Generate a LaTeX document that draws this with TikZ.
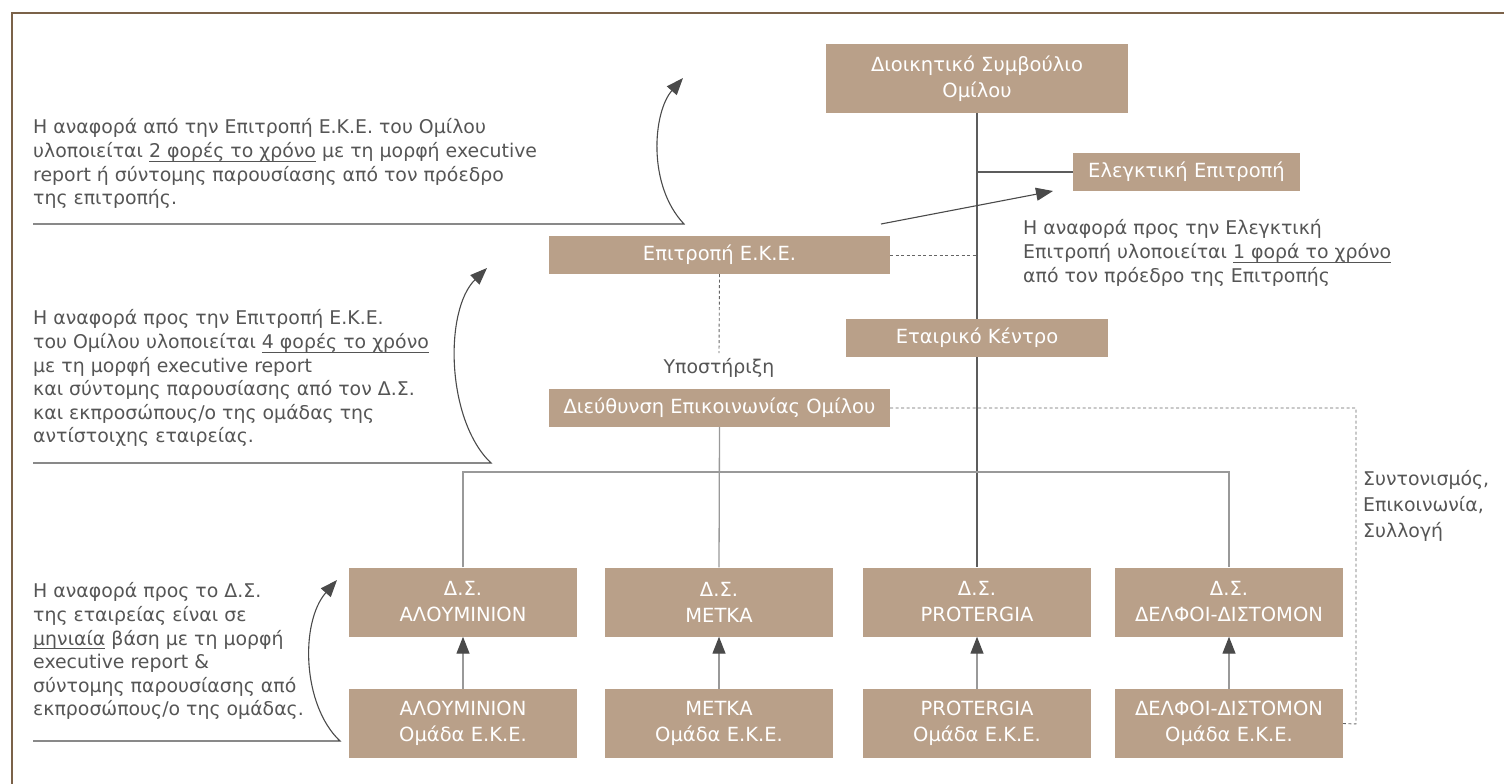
\documentclass[tikz,border=0pt]{standalone}
\usepackage{fontspec}
\setmainfont{DejaVu Sans}
\usetikzlibrary{arrows.meta}
\definecolor{boxc}{HTML}{B9A089}
\definecolor{txtc}{HTML}{555555}
\definecolor{framec}{HTML}{7B6249}
\definecolor{arrc}{HTML}{4A4A4A}
\definecolor{treec}{HTML}{999999}
\newcommand\myul[1]{\setbox0\hbox{#1}\rlap{\rule[-4.2pt]{\wd0}{0.8pt}}\box0\relax}
\tikzset{
  orgbox/.style={fill=boxc, text=white, inner sep=0pt, align=center,
    font=\fontsize{19.5}{26}\selectfont},
  note/.style={text=txtc, align=left, inner sep=0pt, anchor=north west,
    font=\fontsize{18.9}{23.6}\selectfont},
  curvarrow/.style={draw=arrc, line width=1.1pt, -{Triangle[length=17pt,width=13pt]}},
  uparrow/.style={draw=treec, line width=1.3pt, -{Triangle[length=17pt,width=13pt,color=arrc]}},
  trunk/.style={draw=arrc!90, line width=1.1pt},
  tree/.style={draw=treec, line width=1.3pt},
  dotline/.style={draw=arrc!85, line width=0.9pt, dash pattern=on 3pt off 2.5pt}
}
\begin{document}
\begin{tikzpicture}[x=1pt,y=-1pt]
\useasboundingbox (0,0) rectangle (1504,784);
% frame
\draw[framec, line width=2pt] (12,784) -- (12,13) -- (1504,13);

% boxes
\node[orgbox, minimum width=302pt, minimum height=69pt] (ds) at (977,78.5) {Διοικητικό Συμβούλιο\\Ομίλου};
\node[orgbox, minimum width=227pt, minimum height=38pt] (elegk) at (1186.5,172) {Ελεγκτική Επιτροπή};
\node[orgbox, minimum width=341pt, minimum height=38pt] (eke) at (719.5,255) {Επιτροπή Ε.Κ.Ε.};
\node[orgbox, minimum width=262pt, minimum height=38pt] (ek) at (977,338) {Εταιρικό Κέντρο};
\node[orgbox, minimum width=341pt, minimum height=38pt] (dep) at (719.5,408) {Διεύθυνση Επικοινωνίας Ομίλου};

\foreach \nm/\cx/\ta/\tb in {a/463/ΑΛΟΥΜΙΝΙΟΝ/ΑΛΟΥΜΙΝΙΟΝ, m/719/ΜΕΤΚΑ/ΜΕΤΚΑ, p/977/PROTERGIA/PROTERGIA, d/1229/ΔΕΛΦΟΙ-ΔΙΣΤΟΜΟΝ/ΔΕΛΦΟΙ-ΔΙΣΤΟΜΟΝ}{
  \node[orgbox, minimum width=228pt, minimum height=69pt] (b\nm) at (\cx,602) {Δ.Σ.\\\ta};
  \node[orgbox, minimum width=228pt, minimum height=69pt] (g\nm) at (\cx,723.5) {\tb\\Ομάδα Ε.Κ.Ε.};
  \draw[uparrow] (g\nm.north) -- (b\nm.south);
}

% trunk
\draw[trunk] (ds.south) -- (ek.north);
\draw[trunk] (ek.south) -- (bp.north);
\draw[trunk] (977,172) -- (elegk.west);
\coordinate (ja) at (463,472);
\coordinate (jd) at (1229,472);
\draw[tree] (ba.north) -- (ja) -- (jd) -- (bd.north);
\draw[tree] (dep.south) -- (bm.north);

% dashed
\draw[dotline] (eke.east) -- (977,255);
\draw[dotline] (eke.south) -- (719,353);
\node[text=txtc, font=\fontsize{18.9}{22}\selectfont, inner sep=0pt] (yp) at (719,368) {Υποστήριξη};
\coordinate (c1) at (1356,408);
\coordinate (c2) at (1356,724);
\draw[dotline] (dep.east) -- (c1) -- (c2) -- (gd.east);

% arrow to Ελεγκτική
\coordinate (es) at (881,224);
\coordinate (et) at (1053,191);
\draw[curvarrow] (es) -- (et);

% notes
\node[note] (n1) at (33,118.5) {Η αναφορά από την Επιτροπή Ε.Κ.Ε. του Ομίλου\\
υλοποιείται \myul{2 φορές το χρόνο} με τη μορφή executive\\
report ή σύντομης παρουσίασης από τον πρόεδρο\\
της επιτροπής.};
\node[note] (n2) at (1023,219.5) {Η αναφορά προς την Ελεγκτική\\
Επιτροπή υλοποιείται \myul{1 φορά το χρόνο}\\
από τον πρόεδρο της Επιτροπής};
\node[note] (n3) at (33,309.5) {Η αναφορά προς την Επιτροπή Ε.Κ.Ε.\\
του Ομίλου υλοποιείται \myul{4 φορές το χρόνο}\\
με τη μορφή executive report\\
και σύντομης παρουσίασης από τον Δ.Σ.\\
και εκπροσώπους/ο της ομάδας της\\
αντίστοιχης εταιρείας.};
\node[note] (n4) at (33,582.5) {Η αναφορά προς το Δ.Σ.\\
της εταιρείας είναι σε\\
\myul{μηνιαία} βάση με τη μορφή\\
executive report \&\\
σύντομης παρουσίασης από\\
εκπροσώπους/ο της ομάδας.};
\node[note, font=\fontsize{18.9}{26}\selectfont] (n5) at (1363,470.5) {Συντονισμός,\\Επικοινωνία,\\Συλλογή};

% curved arrows with rules
\coordinate (r1a) at (33,224); \coordinate (r1b) at (684,224); \coordinate (t1) at (683,78);
\draw[curvarrow] (r1a) -- (r1b) .. controls (647,185) and (653,112) .. (t1);
\coordinate (r2a) at (33,463); \coordinate (r2b) at (491,463); \coordinate (t2) at (487,268);
\draw[curvarrow] (r2a) -- (r2b) .. controls (446,420) and (444,310) .. (t2);
\coordinate (r3a) at (33,741); \coordinate (r3b) at (340,741); \coordinate (t3) at (337,580);
\draw[curvarrow] (r3a) -- (r3b) .. controls (302,705) and (300,622) .. (t3);
\end{tikzpicture}
\end{document}
